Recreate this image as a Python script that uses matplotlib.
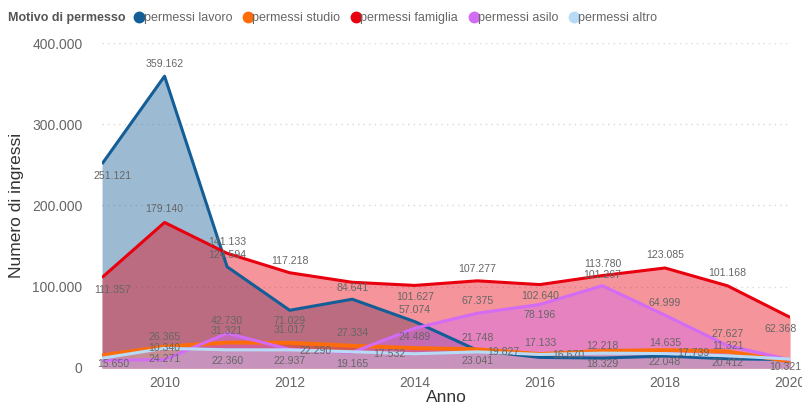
import matplotlib
matplotlib.use("Agg")
import matplotlib.pyplot as plt
import matplotlib.ticker as ticker
from matplotlib.lines import Line2D

plt.rcParams['font.family'] = ['Liberation Sans', 'DejaVu Sans']

# ----------------------------------------------------------------
# ingressi per motivo di permesso

anni = [2009, 2010, 2011, 2012, 2013, 2014, 2015, 2016, 2017, 2018, 2019, 2020]

lavoro = [251121, 359162, 124594, 71029, 84641, 57074, 21748, 13000, 12218, 14635, 11321, 10321]
studio = [15650, 26365, 31321, 31017, 27334, 24489, 23041, 17133, 21000, 22048, 20412, 8000]
famiglia = [111357, 179140, 141133, 117218, 105500, 101627, 107277, 102640, 113780, 123085, 101168, 62368]
asilo = [9500, 10340, 42730, 22937, 19165, 49000, 67375, 78196, 101267, 64999, 27627, 10000]
altro = [12000, 24271, 22360, 22290, 20000, 17532, 19827, 16670, 18329, 17739, 15000, 11000]

nomi = ['permessi lavoro', 'permessi studio', 'permessi famiglia', 'permessi asilo', 'permessi altro']
serie = [lavoro, studio, famiglia, asilo, altro]
colori = ['#145E98', '#FF6D0A', '#E8000E', '#D36BF5', '#B7DBF7']
spessori = [2.2, 2.8, 2.2, 2.2, 2.2]

# etichette mostrate : (serie, indice anno, dx, dy) en pixel
etichette = [
    (0, 0, 11, -12), (0, 1, 0, 12), (0, 2, 0, 12), (0, 3, 0, -11), (0, 4, 0, 11),
    (0, 5, 0, 12), (0, 6, 0, 12), (0, 8, 0, 12), (0, 9, 0, 13), (0, 10, 0, 13),
    (0, 11, -5, -7),
    (1, 0, 11, -9), (1, 1, 0, 10), (1, 2, 0, 12), (1, 3, 0, 13), (1, 4, 0, 13),
    (1, 5, 0, 11), (1, 6, 0, -12), (1, 7, 0, 11), (1, 9, 0, -12), (1, 10, 0, -12),
    (2, 0, 11, -12), (2, 1, 0, 13), (2, 2, 0, 11), (2, 3, 0, 12), (2, 5, 0, -12),
    (2, 6, 0, 12), (2, 7, 0, -11), (2, 8, 0, 12), (2, 9, 0, 13), (2, 10, 0, 13),
    (2, 11, -9, -12),
    (3, 1, 0, 12), (3, 2, 0, 12), (3, 3, 0, -12), (3, 4, 0, -12), (3, 6, 0, 12),
    (3, 7, 0, -11), (3, 8, 0, 11), (3, 9, 0, 12), (3, 10, 0, 12),
    (4, 1, 0, -11), (4, 2, 0, -11), (4, 3, 26, -1), (4, 5, -25, 0), (4, 6, 26, 0),
    (4, 7, 28, -1), (4, 8, 0, -11), (4, 9, 28, 1),
]

def fmt_it(v, pos=None):
    return f"{int(v):,}".replace(",", ".")

# ----------------------------------------------------------------
# plot

fig = plt.figure(figsize=(8.02, 4.05), dpi=100)
ax = fig.add_axes([0.1272, 0.0914, 0.8579, 0.8024])

for s, c in zip(serie, colori):
    ax.fill_between(anni, 0, s, color=c, alpha=0.42, lw=0, zorder=2)
for s, c, w in zip(serie, colori, spessori):
    ax.plot(anni, s, color=c, lw=w, zorder=3, solid_capstyle='butt')

for i, j, dx, dy in etichette:
    v = serie[i][j]
    ax.annotate(fmt_it(v), (anni[j], v), xytext=(dx, dy), textcoords='offset pixels',
                ha='center', va='center', fontsize=7.6, color='#666666', zorder=5)

ax.set_xlim(2009, 2020)
ax.set_ylim(0, 400000)
ax.set_xticks([2010, 2012, 2014, 2016, 2018, 2020])
ax.set_yticks([0, 100000, 200000, 300000, 400000])
ax.yaxis.set_major_formatter(ticker.FuncFormatter(fmt_it))
ax.tick_params(length=0, labelsize=10, labelcolor='#666666')
ax.tick_params(axis='y', pad=14)
ax.tick_params(axis='x', pad=6)
ax.grid(axis='y', color='#d8d8d8', linestyle=(0, (1, 3)), lw=1, zorder=1)
ax.set_axisbelow(True)
for sp in ax.spines.values():
    sp.set_visible(False)

ax.set_xlabel('Anno', fontsize=12.5, color='#333333', labelpad=0)
ax.set_ylabel('Numero di ingressi', fontsize=12.5, color='#333333', labelpad=6)

# legenda
fig.text(0.01, 0.955, 'Motivo di permesso', fontsize=9, fontweight='bold',
         color='#555555', va='center')
maniglie = [Line2D([], [], marker='o', ls='', color=c, markersize=7.5) for c in colori]
fig.legend(maniglie, nomi, loc='center left', bbox_to_anchor=(0.166, 0.955),
           ncol=5, frameon=False, fontsize=9, handletextpad=-0.15,
           columnspacing=0.75, handlelength=1.0, labelcolor='#666666',
           borderaxespad=0, borderpad=0)

plt.savefig('out.png', dpi=100)
